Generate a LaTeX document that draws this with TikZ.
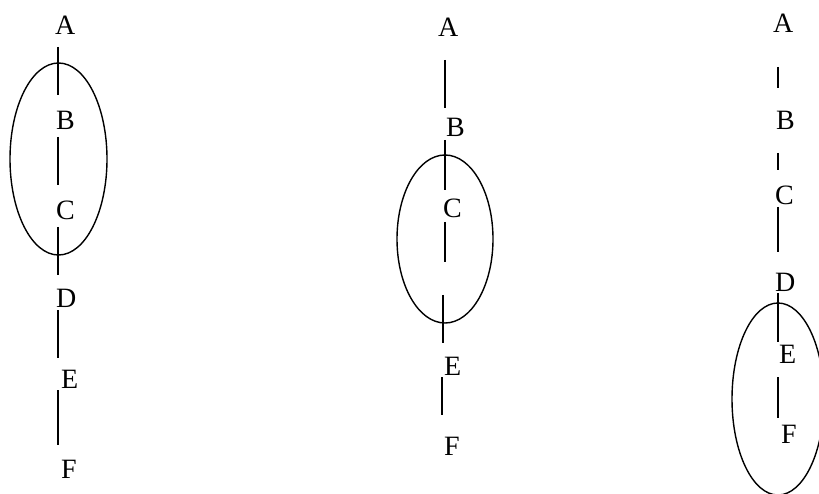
\documentclass[tikz,border=0pt]{standalone}
\usepackage{fontspec}
\setmainfont{Liberation Serif}
\begin{document}
\begin{tikzpicture}[x=1pt,y=-1pt,
  lbl/.style={anchor=base west,inner sep=0pt,font=\fontsize{28}{28}\selectfont},
  seg/.style={line width=1.4pt},
  ring/.style={line width=1.4pt}]
\useasboundingbox (0,0) rectangle (819,494);
% left column
\node[lbl] (lA) at (55,35) {A};
\node[lbl] (lB) at (56,130) {B};
\node[lbl] (lC) at (56,220) {C};
\node[lbl] (lD) at (56,307) {D};
\node[lbl] (lE) at (61,388) {E};
\node[lbl] (lF) at (61,478) {F};
\coordinate (l1a) at (58,47);  \coordinate (l1b) at (58,95);
\coordinate (l2a) at (58,137); \coordinate (l2b) at (58,185);
\coordinate (l3a) at (58,227); \coordinate (l3b) at (58,275);
\coordinate (l4a) at (58,310); \coordinate (l4b) at (58,358);
\coordinate (l5a) at (58,390); \coordinate (l5b) at (58,445);
\foreach \i in {1,...,5} \draw[seg] (l\i a) -- (l\i b);
\coordinate (lO) at (58.5,159);
\draw[ring] (lO) ellipse [x radius=48.5, y radius=96];
% middle column
\node[lbl] (mA) at (438,37) {A};
\node[lbl] (mB) at (446,137) {B};
\node[lbl] (mC) at (443,218) {C};
\node[lbl] (mE) at (444,375) {E};
\node[lbl] (mF) at (444,455) {F};
\coordinate (m1a) at (445,60);  \coordinate (m1b) at (445,108);
\coordinate (m2a) at (445,140); \coordinate (m2b) at (445,190);
\coordinate (m3a) at (445,222); \coordinate (m3b) at (445,262);
\coordinate (m4a) at (443,295); \coordinate (m4b) at (443,343);
\coordinate (m5a) at (442,377); \coordinate (m5b) at (442,415);
\foreach \i in {1,...,5} \draw[seg] (m\i a) -- (m\i b);
\coordinate (mO) at (445,239);
\draw[ring] (mO) ellipse [x radius=48, y radius=84];
% right column
\node[lbl] (rA) at (773,33) {A};
\node[lbl] (rB) at (776,130) {B};
\node[lbl] (rC) at (775,205) {C};
\node[lbl] (rD) at (775,292) {D};
\node[lbl] (rE) at (779,363) {E};
\node[lbl] (rF) at (781,443) {F};
\coordinate (r1a) at (778,67);  \coordinate (r1b) at (778,88);
\coordinate (r2a) at (778,153); \coordinate (r2b) at (778,170);
\coordinate (r3a) at (778,207); \coordinate (r3b) at (778,252);
\coordinate (r4a) at (778,293); \coordinate (r4b) at (778,342);
\coordinate (r5a) at (778,377); \coordinate (r5b) at (778,418);
\foreach \i in {1,...,5} \draw[seg] (r\i a) -- (r\i b);
\coordinate (rO) at (778,399);
\draw[ring] (rO) ellipse [x radius=46, y radius=96];
\end{tikzpicture}
\end{document}
